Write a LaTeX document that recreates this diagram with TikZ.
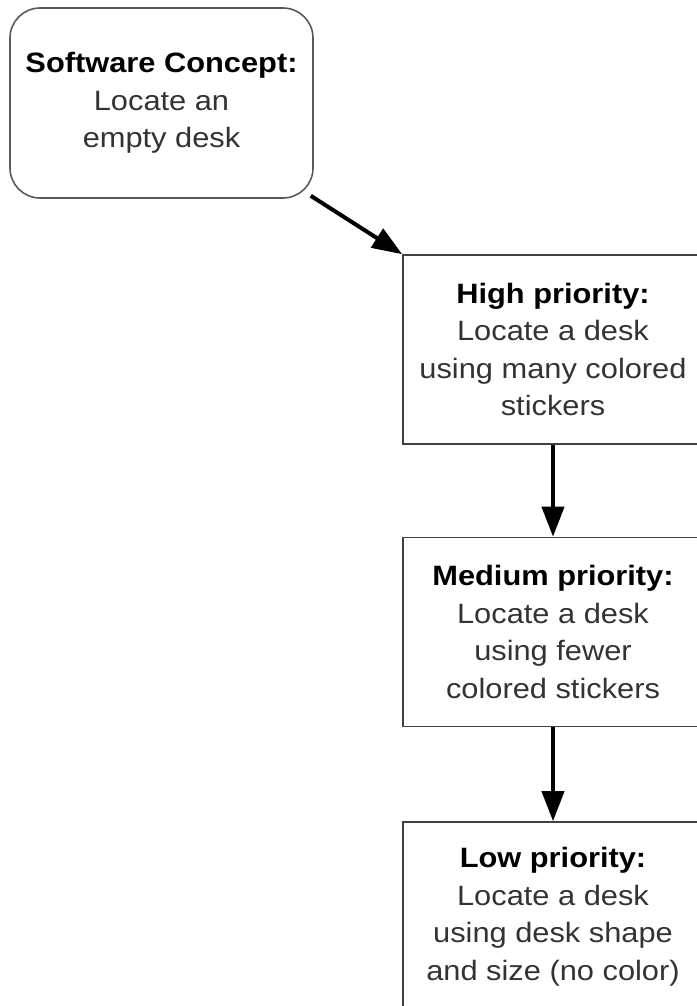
\documentclass[tikz,border=0pt]{standalone}
\usepackage{fontspec}
\setmainfont[FakeStretch=1.1]{Liberation Sans}
\usetikzlibrary{arrows.meta}
\begin{document}
\begin{tikzpicture}[x=1pt,y=-1pt,
  box/.style={draw=black!75, line width=1.6pt, minimum width=300pt, minimum height=189pt,
    inner sep=0pt, align=center, font=\fontsize{28pt}{37.5pt}\selectfont, text=black!80},
  concept/.style={box, draw=black!65, rounded corners=30pt, minimum width=303pt, minimum height=190pt},
  arr/.style={-{Triangle[length=30pt,width=22pt]}, line width=4pt, draw=black}]
\useasboundingbox (0,0) rectangle (696,1006);
\node[concept] (concept) at (161.5,103) {\textcolor{black}{\bfseries Software Concept:}\\Locate an\\empty desk};
\node[box] (high) at (553,349.5) {\textcolor{black}{\bfseries High priority:}\\Locate a desk\\using many colored\\stickers};
\node[box] (medium) at (553,632) {\textcolor{black}{\bfseries Medium priority:}\\Locate a desk\\using fewer\\colored stickers};
\node[box] (low) at (553,916.5) {\textcolor{black}{\bfseries Low priority:}\\Locate a desk\\using desk shape\\and size (no color)};
\draw[arr] ([shift={(-3pt,3pt)}]concept.south east) -- (high.north west);
\draw[arr] (high.south) -- (medium.north);
\draw[arr] (medium.south) -- (low.north);
\end{tikzpicture}
\end{document}
